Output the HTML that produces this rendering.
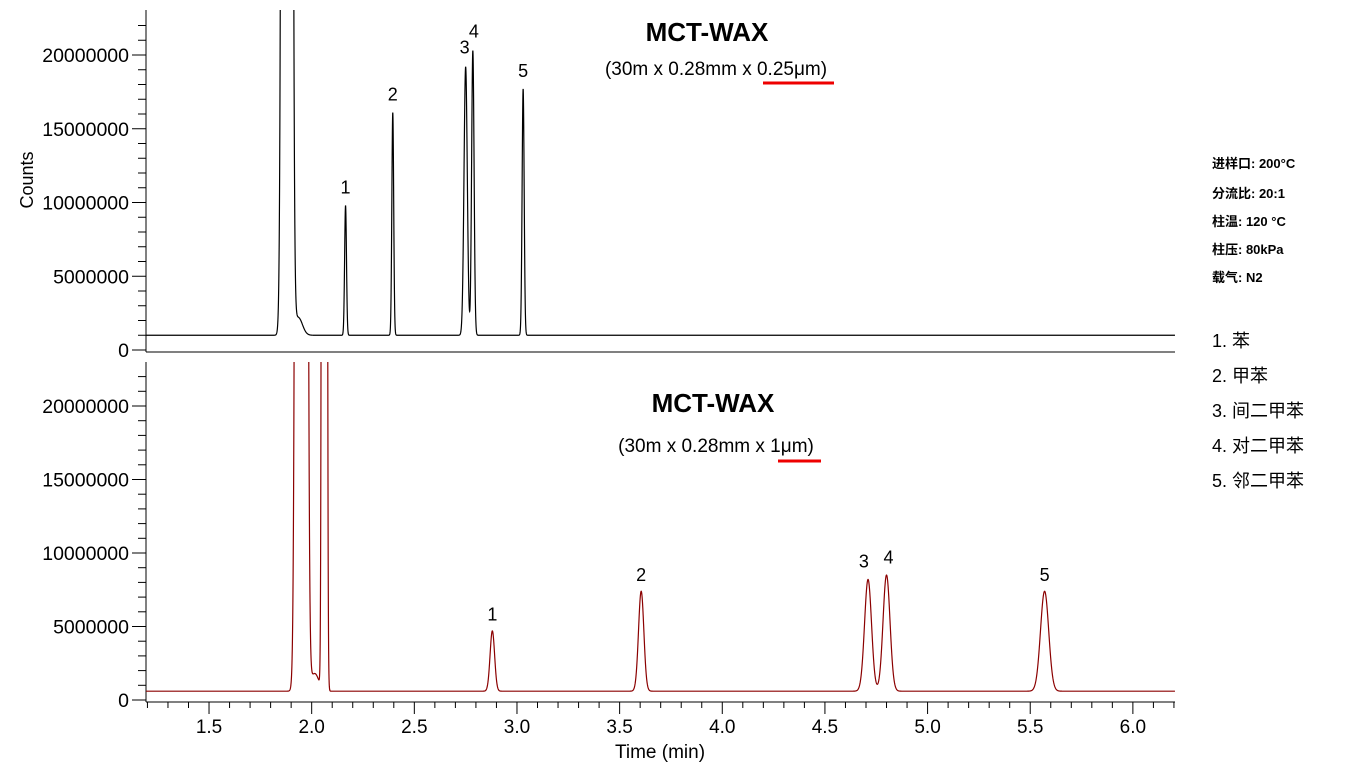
<!DOCTYPE html>
<html><head><meta charset="utf-8"><style>
body{margin:0;background:#fff;}
svg text{font-family:"Liberation Sans","Noto Sans CJK SC",sans-serif;}
</style></head><body>
<svg id="c" width="1355" height="772" xmlns="http://www.w3.org/2000/svg">
<defs>
<clipPath id="clipTop"><rect x="146" y="10" width="1030" height="342"/></clipPath>
<clipPath id="clipBot"><rect x="146" y="362" width="1030" height="340"/></clipPath>
</defs>
<g id="axes"></g>
<path id="lineTop" clip-path="url(#clipTop)" fill="none" stroke="#000" stroke-width="1.2"/>
<path id="lineBot" clip-path="url(#clipBot)" fill="none" stroke="#8b0000" stroke-width="1.2"/>
<g id="labels"></g>
<text x="707" y="41" text-anchor="middle" font-size="26" font-weight="bold">MCT-WAX</text>
<text x="716" y="75" text-anchor="middle" font-size="19">(30m x 0.28mm x 0.25μm)</text>
<line x1="763" y1="83" x2="834" y2="83" stroke="#e00" stroke-width="3"/>
<text x="713" y="412" text-anchor="middle" font-size="26" font-weight="bold">MCT-WAX</text>
<text x="716" y="452" text-anchor="middle" font-size="19">(30m x 0.28mm x 1μm)</text>
<line x1="778" y1="461" x2="821" y2="461" stroke="#e00" stroke-width="3"/>
<text x="33" y="180" text-anchor="middle" font-size="18" transform="rotate(-90 33 180)">Counts</text>
<text x="660" y="758" text-anchor="middle" font-size="19">Time (min)</text>
<g font-size="13" font-weight="bold">
<text x="1212" y="168">进样口: 200°C</text>
<text x="1212" y="198">分流比: 20:1</text>
<text x="1212" y="226">柱温: 120 °C</text>
<text x="1212" y="254">柱压: 80kPa</text>
<text x="1212" y="282">载气: N2</text>
</g>
<g font-size="18">
<text x="1212" y="347">1. 苯</text>
<text x="1212" y="382">2. 甲苯</text>
<text x="1212" y="417">3. 间二甲苯</text>
<text x="1212" y="452">4. 对二甲苯</text>
<text x="1212" y="487">5. 邻二甲苯</text>
</g>
</svg>
<script>
const topPeakTimes=[1.88,1.935,2.165,2.395,2.75,2.785,3.03];
const topPeakHeights=[1e9,1.2e6,8.8e6,15.1e6,18.2e6,19.3e6,16.7e6];
const topPeakSigmas=[0.012,0.02,0.0045,0.0045,0.008,0.006,0.005];
const topBaseline=1.0e6;
const botPeakTimes=[1.95,2.015,2.062,2.88,3.605,4.71,4.80,5.57];
const botPeakHeights=[1e9,1.2e6,1e9,4.1e6,6.8e6,7.6e6,7.9e6,6.8e6];
const botPeakSigmas=[0.013,0.02,0.006,0.011,0.013,0.017,0.017,0.02];
const botBaseline=0.6e6;
const topLabels=["1","2","3","4","5"];
const topLabelTimes=[2.165,2.395,2.745,2.79,3.03];
const topLabelVals=[10.6e6,16.9e6,20.1e6,21.2e6,18.5e6];
const botLabels=["1","2","3","4","5"];
const botLabelTimes=[2.88,3.605,4.69,4.81,5.57];
const botLabelVals=[5.4e6,8.1e6,9.0e6,9.3e6,8.1e6];
const yTicks=[0,5000000,10000000,15000000,20000000];
const xTicks=[1.5,2.0,2.5,3.0,3.5,4.0,4.5,5.0,5.5,6.0];

const xs=t=>146+(t-1.193)*205.3;
const yTop=v=>350-v*(295/20e6);
const yBot=v=>700-v*(294/20e6);
const NS="http://www.w3.org/2000/svg";
function mk(tag,attrs,parent){const e=document.createElementNS(NS,tag);for(const k in attrs)e.setAttribute(k,attrs[k]);parent.appendChild(e);return e;}
const axes=document.getElementById('axes');
const labels=document.getElementById('labels');
function signal(t,times,hs,ss,base){let v=base;for(let i=0;i<times.length;i++){const d=(t-times[i])/ss[i];v+=hs[i]*Math.exp(-0.5*d*d);}return Math.min(v,3e7);}
function trace(id,times,hs,ss,base,ys){let d="";for(let t=1.193;t<=6.205;t+=0.0005){d+=(d?"L":"M")+xs(t).toFixed(2)+","+ys(signal(t,times,hs,ss,base)).toFixed(2);}document.getElementById(id).setAttribute('d',d);}
trace('lineTop',topPeakTimes,topPeakHeights,topPeakSigmas,topBaseline,yTop);
trace('lineBot',botPeakTimes,botPeakHeights,botPeakSigmas,botBaseline,yBot);
function yAxis(ys,y0,y1,name){
 const l=mk('line',{x1:146,y1:y0,x2:146,y2:y1,stroke:'#000'},axes);
 
 
 for(let m=0;m<=22e6;m+=1e6){const y=ys(m);if(y<y0)continue;mk('line',{x1:m%5e6===0?132:138,y1:y,x2:146,y2:y,stroke:'#000'},axes);}
 yTicks.forEach(v=>{const t=mk('text',{x:129,y:ys(v)+7,'text-anchor':'end','font-size':19.5},axes);t.textContent=v;
 
 });
}
yAxis(yTop,10,352,'top');yAxis(yBot,362,702,'bottom');
const xa=mk('line',{x1:146,y1:352,x2:1175,y2:352,stroke:'#000'},axes);


const xb=mk('line',{x1:146,y1:702,x2:1175,y2:702,stroke:'#000'},axes);


for(let i=12;i<=62;i++){const t=i/10;const x=xs(t);mk('line',{x1:x,y1:702,x2:x,y2:i%5===0?714:708,stroke:'#000'},axes);}
xTicks.forEach(v=>{const t=mk('text',{x:xs(v),y:733,'text-anchor':'middle','font-size':19},axes);t.textContent=v.toFixed(1);

});
topLabels.forEach((s,i)=>{const t=mk('text',{x:xs(topLabelTimes[i]),y:yTop(topLabelVals[i]),'text-anchor':'middle','font-size':18},labels);t.textContent=s;

});
botLabels.forEach((s,i)=>{const t=mk('text',{x:xs(botLabelTimes[i]),y:yBot(botLabelVals[i]),'text-anchor':'middle','font-size':18},labels);t.textContent=s;

});
</script>
</body></html>
